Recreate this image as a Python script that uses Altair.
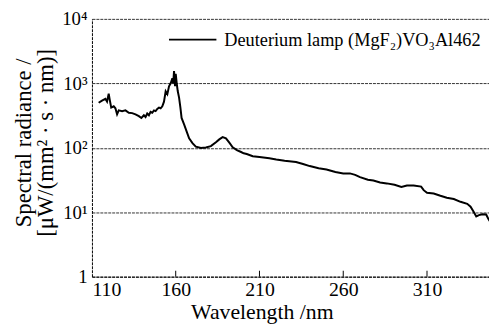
import altair as alt
import pandas as pd

wavelength = [114, 116, 118, 119, 120, 120.6, 121.5, 123, 124, 125, 126, 128, 130, 132, 134, 136, 138, 139.5,
              141, 142, 143, 144, 145, 146, 147, 148, 149, 150, 151, 152, 153, 154, 155, 156, 157, 158, 158.5,
              159, 159.6, 160, 160.6, 161.2, 162, 162.8, 163.5, 165, 166.5, 168, 170, 172, 175, 178, 181, 184,
              186, 188, 190, 192, 194, 196.5, 199, 200.6, 202.4, 206, 210, 215.9, 220, 225, 231.8, 236, 240,
              245.3, 250, 255.3, 260, 264, 267.1, 270, 274.7, 278, 282, 286, 290.6, 294.7, 298, 302, 306.5,
              308, 310, 314, 318, 321.8, 326, 330, 334, 336, 338, 339.4, 341, 343, 345.3, 346.5, 347.6]
radiance = [500, 540, 575, 520, 690, 560, 420, 440, 410, 330, 380, 370, 380, 350, 345, 330, 310, 290,
            320, 300, 340, 320, 360, 350, 380, 370, 400, 420, 410, 440, 520, 750, 680, 900, 1000, 1200, 1000,
            1550, 900, 1400, 1000, 760, 600, 420, 290, 230, 180, 140, 118, 104, 99, 101, 106, 122,
            135, 146, 140, 120, 102, 92, 86, 82, 80, 74, 72, 69, 66, 63, 60, 56, 52,
            48, 46, 42, 40, 40, 38, 35, 32, 31, 29, 28, 26.6, 24.7, 26, 26, 25,
            22, 20, 19.5, 18, 16.8, 16, 14.5, 13.5, 12.2, 10, 8.6, 9, 9.3, 9.2, 8, 7.2]
series_name = "Deuterium lamp (MgF\u2082)VO\u2083Al462"
x_ticks = [110, 160, 210, 260, 310]
y_ticks = [1, 10, 100, 1000, 10000]
y_labels = ["1", "10\u00b9", "10\u00b2", "10\u00b3", "10\u2074"]

df = pd.DataFrame({"wl": wavelength, "rad": radiance, "series": series_name})
ticks_df = pd.DataFrame({"wl": x_ticks[1:]})

label_expr = " : ".join(
    [f"datum.value == {v} ? '{l}'" for v, l in zip(y_ticks, y_labels)]
) + " : ''"

FONT = "Liberation Serif"

line = alt.Chart(df).mark_line(strokeWidth=2, clip=True).encode(
    x=alt.X("wl:Q",
            scale=alt.Scale(domain=[110, 347], nice=False, zero=False),
            axis=alt.Axis(values=x_ticks, title="Wavelength /nm", grid=False, tickSize=0,
                          labelPadding=3, labelFontSize=20, titleFontSize=22,
                          titlePadding=2, titleX=172, format="d")),
    y=alt.Y("rad:Q",
            scale=alt.Scale(type="log", domain=[1, 10000], nice=False),
            axis=alt.Axis(values=y_ticks, labelExpr=label_expr, tickSize=0, labelPadding=5,
                          labelFontSize=19, titleFontSize=23,
                          title=["Spectral radiance /", "[\u03bcW/(mm\u00b2 \u00b7 s \u00b7 nm)]"],
                          titlePadding=4, titleLineHeight=23, titleY=125, grid=True,
                          gridColor="#333333", gridDash=[3, 1], gridWidth=1)),
    color=alt.Color("series:N", scale=alt.Scale(range=["black"]),
                    legend=alt.Legend(title=None, orient="none", legendX=77, legendY=-4,
                                      symbolType="stroke", symbolSize=2304, symbolStrokeWidth=2,
                                      labelFont=FONT, labelFontSize=18.5, labelColor="black",
                                      labelLimit=400, labelOffset=7, padding=0)),
)

ticks = alt.Chart(ticks_df).mark_rule(color="black", strokeWidth=1).encode(
    x=alt.X("wl:Q"),
    y=alt.value(261),
    y2=alt.value(255),
)

chart = alt.layer(line, ticks).properties(
    width=402, height=261,
    autosize=alt.AutoSizeParams(type="none"),
    padding={"left": 85, "top": 9, "right": 0, "bottom": 53},
).configure_axis(
    labelFont=FONT, titleFont=FONT,
    labelColor="black", titleColor="black", titleFontWeight="normal",
    domainColor="black", domainDash=[3, 1], domainWidth=1,
).configure_view(stroke=None)

chart.save("out.html", embed_options={"renderer": "svg", "actions": False})
